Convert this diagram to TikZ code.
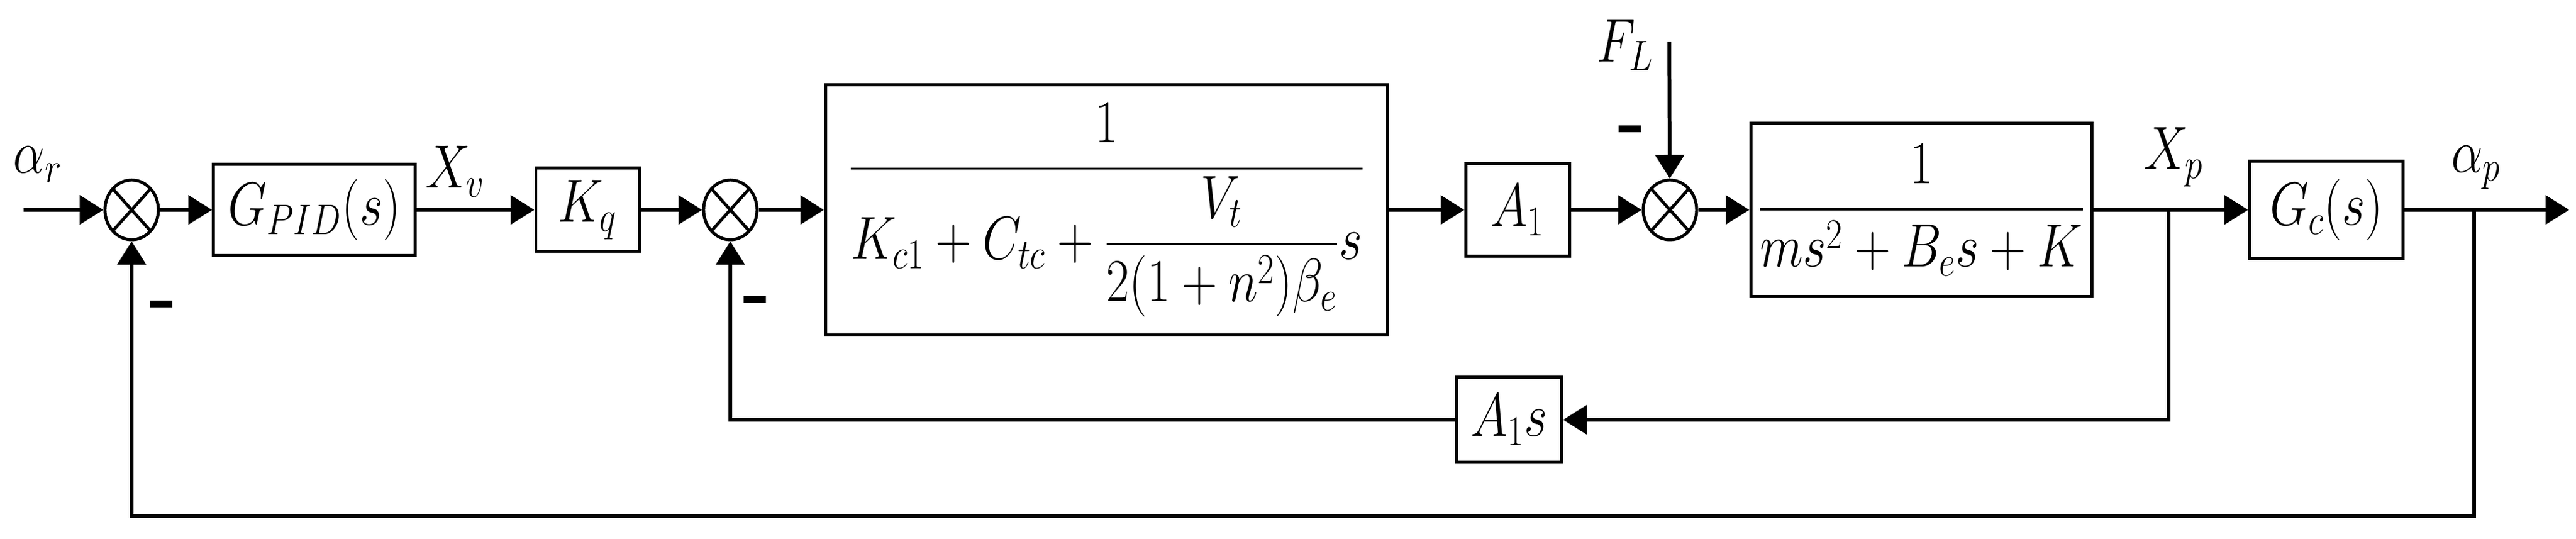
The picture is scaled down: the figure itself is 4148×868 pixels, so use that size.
\RequirePackage{fix-cm}
\documentclass[tikz,border=0pt]{standalone}
\usepackage{amsmath}
\usepackage{graphicx}
\usetikzlibrary{shapes.geometric,arrows.meta}
\tikzstyle{block}=[rectangle,draw=black,line width=1.4pt,inner sep=0pt]
\tikzstyle{junction}=[ellipse,draw=black,line width=1.4pt,minimum width=0.86cm,minimum height=0.96cm,inner sep=0pt,
  path picture={\draw[line width=1.4pt] (path picture bounding box.north west) -- (path picture bounding box.south east)
    (path picture bounding box.south west) -- (path picture bounding box.north east);}]
\tikzstyle{flow}=[line width=1.7pt,-{Triangle[length=0.38cm,width=0.46cm]}]
\tikzstyle{sign}=[font=\fontsize{34}{40}\selectfont\bfseries]
\newcommand{\lbl}[1]{\scalebox{0.82}[1]{$#1$}}

\begin{document}
\begin{tikzpicture}[x=0.01cm,y=0.01cm,font=\fontsize{28}{34}\selectfont]
      \useasboundingbox (0,0) rectangle (4148,868);
      \coordinate (in) at (38,530);
      \node [junction] (sum1) at (212,530) {};
      \node [block,minimum width=3.24cm,minimum height=1.47cm] (gpid) at (506,530) {\lbl{G_{PID}(s)}};
      \node [block,minimum width=1.66cm,minimum height=1.34cm] (kq) at (946,530) {\lbl{K_q}};
      \node [junction] (sum2) at (1176,530) {};
      \node [block,minimum width=9.05cm,minimum height=4.03cm] (valve) at (1782,530)
            {\lbl{\dfrac{1}{K_{c1}+C_{tc}+\dfrac{V_t}{2(1+n^2)\beta_e}s}}};
      \node [block,minimum width=1.67cm,minimum height=1.49cm] (area) at (2444,530) {\lbl{A_1}};
      \node [junction] (sum3) at (2689,530) {};
      \node [block,minimum width=5.49cm,minimum height=2.79cm] (load) at (3094,530) {\lbl{\dfrac{1}{ms^2+B_es+K}}};
      \node [block,minimum width=2.47cm,minimum height=1.57cm] (gc) at (3746,530) {\lbl{G_c(s)}};
      \coordinate (xp) at (3492,530);
      \coordinate (ap) at (3984,530);
      \coordinate (out) at (4137,530);
      \coordinate (fl) at (2688,801);

      % feedback paths
      \node [block,minimum width=1.69cm,minimum height=1.36cm] (areas) at (2430,192) {\lbl{A_1s}};
      \coordinate (fb) at (212,37);

      % signal names
      \node (alphar) at (61,603) {\lbl{\alpha_r}};
      \node (xv) at (733,592) {\lbl{X_v}};
      \node (fload) at (2617,795) {\lbl{F_L}};
      \node (xpl) at (3500,615) {\lbl{X_p}};
      \node (alphap) at (3987,598) {\lbl{\alpha_p}};
      \node [sign] (minus1) at (263,368) {-};
      \node [sign] (minus2) at (1219,375) {-};
      \node [sign] (minus3) at (2628,649) {-};

      \draw [flow] (in) -- (sum1);
      \draw [flow] (sum1) -- (gpid);
      \draw [flow] (gpid) -- (kq);
      \draw [flow] (kq) -- (sum2);
      \draw [flow] (sum2) -- (valve);
      \draw [flow] (valve) -- (area);
      \draw [flow] (area) -- (sum3);
      \draw [flow] (fl) -- (sum3);
      \draw [flow] (sum3) -- (load);
      \draw [flow] (load) -- (gc);
      \draw [flow] (gc) -- (out);
      \draw [flow] (xp) |- (areas);
      \draw [flow] (areas) -| (sum2);
      \draw [flow] (ap) |- (fb) -- (sum1);
    \end{tikzpicture}
\end{document}
